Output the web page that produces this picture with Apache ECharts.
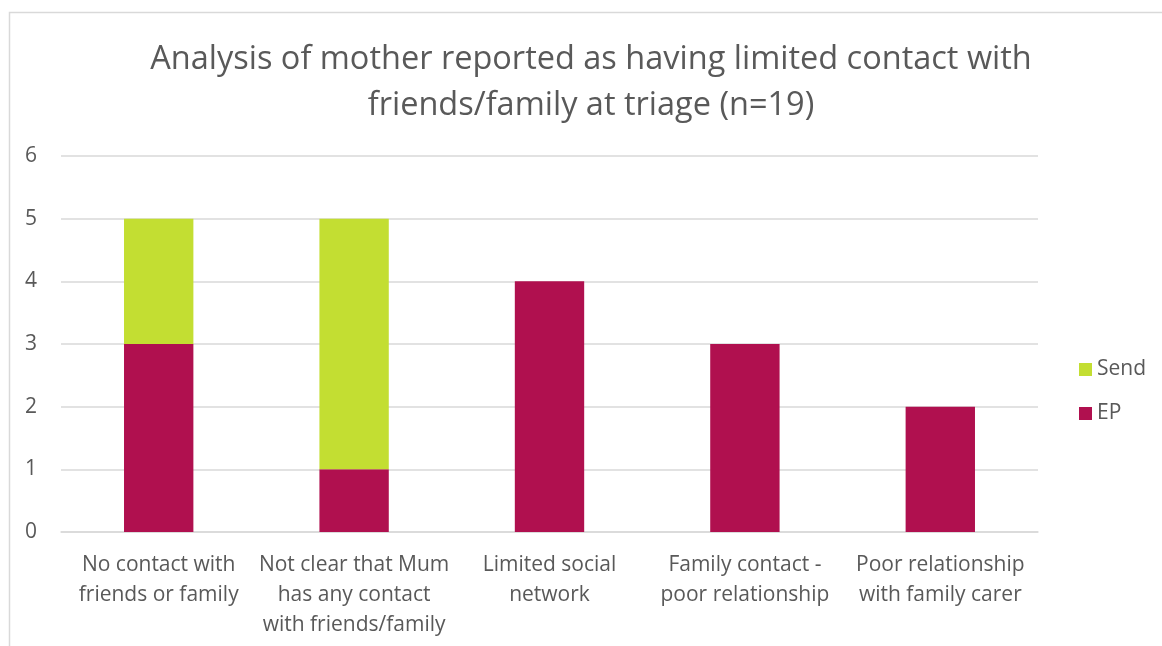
<!DOCTYPE html>
<html><head><meta charset="utf-8">
<script src="https://cdn.jsdelivr.net/npm/echarts@6/dist/echarts.min.js"></script>
<style>html,body{margin:0;padding:0;background:#fff}#c{width:1162px;height:646px}</style>
</head><body><div id="c"></div>
<script>
const categories = ['No contact with\nfriends or family', 'Not clear that Mum\nhas any contact\nwith friends/family', 'Limited social\nnetwork', 'Family contact -\npoor relationship', 'Poor relationship\nwith family carer'];
const epValues = [3, 1, 4, 3, 2];
const sendValues = [2, 4, 0, 0, 0];
const yTicks = [0, 1, 2, 3, 4, 5, 6];
const titleText = 'Analysis of mother reported as having limited contact with\nfriends/family at triage (n=19)';

const FONT = '"Open Sans", sans-serif';
const chart = echarts.init(document.getElementById('c'));
chart.setOption({
  animation: false,
  textStyle: { fontFamily: FONT },
  graphic: [{ type: 'rect', shape: { x: 9.5, y: 12.5, width: 1170, height: 700 }, style: { fill: 'none', stroke: '#d9d9d9', lineWidth: 1.5 }, silent: true }],
  title: { text: titleText, left: 586, textAlign: 'center', top: 32, textStyle: { fontFamily: FONT, fontSize: 32.5, fontWeight: 'normal', color: '#595959', lineHeight: 46 } },
  legend: { orient: 'vertical', left: 1074, top: 354, itemWidth: 13, itemHeight: 13, itemGap: 23, icon: 'rect', data: ['Send', 'EP'], textStyle: { fontFamily: FONT, fontSize: 21, color: '#595959' } },
  grid: { left: 61, right: 124, top: 156, bottom: 114, containLabel: false },
  xAxis: { type: 'category', data: categories, axisTick: { show: false }, axisLine: { lineStyle: { color: '#d9d9d9', width: 1.5 } }, axisLabel: { interval: 0, fontFamily: FONT, fontSize: 21, color: '#595959', lineHeight: 30, margin: 18 } },
  yAxis: { type: 'value', min: 0, max: 6, interval: 1, axisLine: { show: false }, axisTick: { show: false }, splitLine: { lineStyle: { color: '#d9d9d9', width: 1.5 } }, axisLabel: { fontFamily: FONT, fontSize: 21, color: '#595959', margin: 24, formatter: v => yTicks.includes(v) ? String(v) : '' } },
  series: [
    { name: 'EP', type: 'bar', stack: 's', data: epValues, barWidth: '35.5%', itemStyle: { color: '#B0104F' } },
    { name: 'Send', type: 'bar', stack: 's', data: sendValues, barWidth: '35.5%', itemStyle: { color: '#C3DE32' } }
  ]
});
</script></body></html>
